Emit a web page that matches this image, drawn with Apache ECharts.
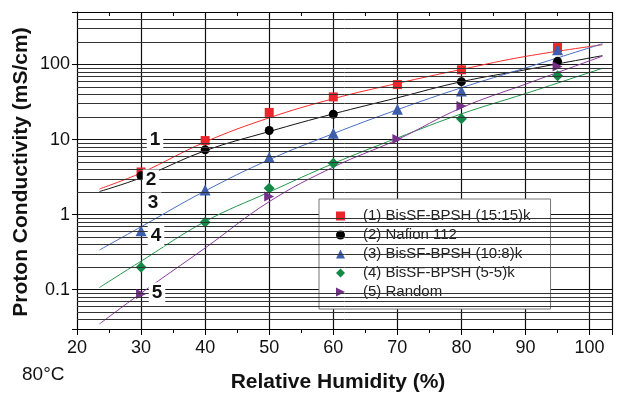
<!DOCTYPE html>
<html>
<head>
<meta charset="utf-8">
<script src="https://cdn.jsdelivr.net/npm/echarts@6/dist/echarts.min.js"></script>
<style>
  html, body { margin: 0; padding: 0; background: #fff; }
  #chart { width: 620px; height: 394px; }
</style>
</head>
<body>
<div id="chart"></div>
<script>
// measured points (relative humidity %, conductivity mS/cm)
const rhPoints = [30, 40, 50, 60, 70, 80, 95]
const bisSf1515 = [3.7, 9.7, 23, 37, 54, 85, 168]
const nafion112 = [3.3, 7.3, 13.2, 21.7, null, 59, 110]
const bisSf108 = [0.61, 2.13, 5.8, 12.1, 25.4, 44.5, 157]
const bisSf55 = [0.2, 0.79, 2.24, 4.83, null, 18.9, 71]
const randomCopoly = [0.088, null, 1.74, null, 10.2, 28, 94]

// fitted curves
const rhFit = [23.5, 30, 40, 50, 60, 70, 80, 90, 102]
const fit1 = [2.2, 3.6, 9.3, 19.5, 35, 56, 86, 128, 183]
const fit2 = [2.03, 3.1, 7.1, 12.8, 22, 36, 59, 85, 131]
const fit3 = [0.338, 0.69, 2.07, 5.4, 12, 25, 49, 90, 189]
const fit4 = [0.107, 0.24, 0.81, 2.0, 4.8, 10.5, 22, 41, 89]
const fit5 = [0.035, 0.09, 0.36, 1.49, 4.3, 10, 26.5, 54.7, 129]

const seriesNames = [
  "(1) BisSF-BPSH (15:15)k",
  "(2) Nafion 112",
  "(3) BisSF-BPSH (10:8)k",
  "(4) BisSF-BPSH (5-5)k",
  "(5) Random",
]
const curveLabels = ["1", "2", "3", "4", "5"]

const chart = echarts.init(document.getElementById("chart"))

const pair = (xs, ys) => xs.map((x, i) => (ys[i] == null ? null : [x, ys[i]])).filter(Boolean)

// log minor grid lines 2..9 in every decade
const minorLines = []
for (let e = -2; e <= 2; e++) {
  for (let m = 2; m <= 9; m++) {
    const v = m * Math.pow(10, e)
    if (v > 0.03 && v < 500) minorLines.push({ yAxis: v })
  }
}

const markers = [
  { data: bisSf1515, color: "#e8262b", symbol: "rect", size: 9 },
  { data: nafion112, color: "#000000", symbol: "circle", size: 9 },
  { data: bisSf108, color: "#3d5ead", symbol: "triangle", size: 11 },
  { data: bisSf55, color: "#128a47", symbol: "diamond", size: 11 },
  { data: randomCopoly, color: "#75308a", symbol: "path://M0,0 L10,5 L0,10 Z", size: 10 },
]
const fits = [
  { data: fit1, color: "#ff2b2b" },
  { data: fit2, color: "#111111" },
  { data: fit3, color: "#4b6fc4" },
  { data: fit4, color: "#22994c" },
  { data: fit5, color: "#8c3aa0" },
]

const series = []
fits.forEach((f, i) => {
  series.push({
    type: "line",
    data: pair(rhFit, f.data),
    smooth: 0.4,
    showSymbol: false,
    silent: true,
    z: 3,
    lineStyle: { color: f.color, width: 1 },
    markLine: i === 0 ? {
      silent: true,
      symbol: ["none", "none"],
      label: { show: false },
      animation: false,
      lineStyle: { color: "#333", width: 1, type: "solid" },
      data: minorLines,
    } : undefined,
  })
})
markers.forEach((m, i) => {
  series.push({
    name: seriesNames[i],
    type: "scatter",
    data: pair(rhPoints, m.data),
    symbol: m.symbol,
    symbolSize: m.size,
    z: 4,
    itemStyle: { color: m.color, opacity: 1 },
  })
})

const tickFont = "'Liberation Sans Narrow', 'Liberation Sans', Arial, sans-serif"
const isDecade = (v) => Math.abs(Math.log10(v) - Math.round(Math.log10(v))) < 1e-6

const option = {
  animation: false,
  backgroundColor: "#fff",
  grid: { left: 77, right: 8, top: 12, bottom: 65 },
  legend: {
    orient: "vertical",
    left: 319,
    top: 199,
    data: seriesNames,
    backgroundColor: "#fff",
    borderColor: "#777",
    borderWidth: 1,
    padding: [8, 20, 8, 17],
    itemWidth: 9,
    itemHeight: 9,
    itemGap: 1,
    textStyle: {
      fontFamily: "'Liberation Sans', Arial, sans-serif",
      fontSize: 15,
      color: "#222",
      lineHeight: 18,
      padding: [0, 0, 0, 13],
    },
  },
  xAxis: [
    {
      type: "value",
      min: 20,
      max: 103.5,
      interval: 10,
      axisLine: { show: true, lineStyle: { color: "#000", width: 1 } },
      axisTick: { show: true, length: 6, lineStyle: { color: "#000" } },
      minorTick: { show: true, splitNumber: 2, length: 4, lineStyle: { color: "#000" } },
      axisLabel: {
        margin: 10,
        fontFamily: tickFont,
        fontSize: 18,
        color: "#111",
        formatter: (v) => (v % 10 === 0 ? String(v) : ""),
      },
      splitLine: { show: true, lineStyle: { color: "#111", width: 1.2 } },
    },
    {
      type: "value",
      position: "top",
      min: 20,
      max: 103.5,
      interval: 10,
      axisLine: { show: true, lineStyle: { color: "#000" } },
      axisTick: { show: true, inside: true, length: 5, lineStyle: { color: "#000" } },
      minorTick: { show: true, splitNumber: 2, length: 4, lineStyle: { color: "#000" } },
      axisLabel: { show: false },
      splitLine: { show: false },
    },
  ],
  yAxis: {
    type: "log",
    logBase: 10,
    min: 0.03,
    max: 500,
    axisLine: { show: true, lineStyle: { color: "#000" } },
    axisTick: { show: true, length: 5, lineStyle: { color: "#000" } },
    axisLabel: {
      margin: 7,
      fontFamily: tickFont,
      fontSize: 18,
      color: "#111",
      formatter: (v) => (isDecade(v) ? String(Number(v.toPrecision(3))) : ""),
    },
    splitLine: { show: true, lineStyle: { color: "#111", width: 1.2 } },
  },
  series: series,
  graphic: [
    {
      type: "text",
      x: 21,
      y: 172,
      rotation: Math.PI / 2,
      style: {
        text: "Proton Conductivity (mS/cm)",
        font: "bold 21px 'Liberation Sans', Arial, sans-serif",
        fill: "#111",
        align: "center",
        verticalAlign: "middle",
      },
    },
    {
      type: "text",
      x: 338,
      y: 382,
      style: {
        text: "Relative Humidity (%)",
        font: "bold 21px 'Liberation Sans', Arial, sans-serif",
        fill: "#111",
        align: "center",
        verticalAlign: "middle",
      },
    },
    {
      type: "text",
      x: 22,
      y: 375,
      style: {
        text: "80°C",
        font: "19px 'Liberation Sans', Arial, sans-serif",
        fill: "#111",
        verticalAlign: "middle",
      },
    },
    ...curveLabels.map((t, i) => ({
      type: "text",
      z: 10,
      x: [155, 151, 153, 156, 157][i],
      y: [140, 180, 203, 236, 293][i],
      style: {
        text: t,
        font: "bold 19px 'Liberation Sans', Arial, sans-serif",
        fill: "#111",
        align: "center",
        verticalAlign: "middle",
        backgroundColor: "#fff",
        padding: [1, 3],
      },
    })),
  ],
}

chart.setOption(option)
</script>
</body>
</html>
